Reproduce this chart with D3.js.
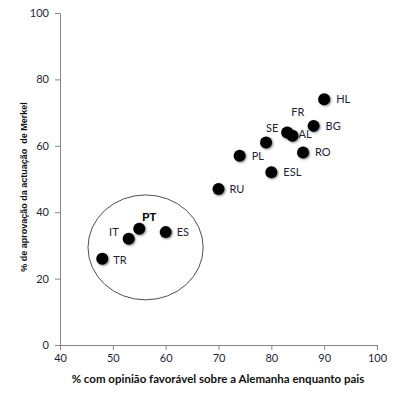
<!DOCTYPE html>
<html>
<head>
<meta charset="utf-8">
<script src="https://cdn.jsdelivr.net/npm/d3@7"></script>
<style>
  html, body { margin: 0; padding: 0; background: #fff; }
  svg { display: block; }
</style>
</head>
<body>
<figure id="scatter" style="margin:0"></figure>
<script>
// data
const countries = ["HL", "BG", "FR", "AL", "SE", "RO", "PL", "ESL", "RU", "PT", "ES", "IT", "TR"];
const favourable = [90, 88, 83, 84, 79, 86, 74, 80, 70, 55, 60, 53, 48];
const approval = [74, 66, 64, 63, 61, 58, 57, 52, 47, 35, 34, 32, 26];
const xTicks = [40, 50, 60, 70, 80, 90, 100];
const yTicks = [0, 20, 40, 60, 80, 100];
const xTitle = "% com opinião favorável sobre a Alemanha enquanto pais";
const yTitle = "% de aprovação da actuação  de Merkel";

// label placement (pixels relative to the dot)
const labelOffsets = {
  HL: [12, 0, "start"], BG: [12, 0, "start"], FR: [4, -20, "start"],
  AL: [6, -2, "start"], SE: [0, -14, "start"], RO: [12, 0, "start"],
  PL: [12, 0, "start"], ESL: [12, 0, "start"], RU: [11, 0, "start"],
  PT: [3, -12, "start"], ES: [11, 0, "start"], IT: [-10, -7, "end"],
  TR: [11, 1, "start"]
};

const width = 399;
const height = 400;
const tickFont = "Lato, 'Open Sans', sans-serif";
const textColor = "#1e1e3a";

const svg = d3.select("figure#scatter")
  .append("svg")
  .attr("width", width)
  .attr("height", height);

const x = d3.scaleLinear().domain([40, 100]).range([60, 377]);
const y = d3.scaleLinear().domain([0, 100]).range([345, 13]);

// soft shadow under the dots
const defs = svg.append("defs");
const filter = defs.append("filter").attr("id", "glow")
  .attr("x", "-50%").attr("y", "-50%").attr("width", "200%").attr("height", "200%");
filter.append("feGaussianBlur").attr("in", "SourceAlpha").attr("stdDeviation", 1.2).attr("result", "blur");
filter.append("feOffset").attr("in", "blur").attr("dx", 1).attr("dy", 1).attr("result", "off");
filter.append("feComponentTransfer").attr("in", "off").attr("result", "soft")
  .append("feFuncA").attr("type", "linear").attr("slope", 0.5);
const merge = filter.append("feMerge");
merge.append("feMergeNode").attr("in", "soft");
merge.append("feMergeNode").attr("in", "SourceGraphic");

// axes
const xAxis = svg.append("g")
  .attr("transform", "translate(0," + y(0) + ")")
  .call(d3.axisBottom(x).tickValues(xTicks).tickSizeOuter(0).tickSize(5).tickPadding(4));

const yAxis = svg.append("g")
  .attr("transform", "translate(" + x(40) + ",0)")
  .call(d3.axisLeft(y).tickValues(yTicks).tickSizeOuter(0).tickSize(5).tickPadding(6));

[xAxis, yAxis].forEach(g => {
  g.select(".domain").attr("stroke", "#868686");
  g.selectAll(".tick line").attr("stroke", "#868686");
  g.selectAll(".tick text")
    .attr("fill", textColor)
    .style("font-family", tickFont)
    .style("font-size", "11px");
});

// axis titles
svg.append("text")
  .attr("x", 218)
  .attr("y", 383)
  .attr("text-anchor", "middle")
  .attr("fill", "#111")
  .style("font-family", tickFont)
  .style("font-weight", "bold")
  .style("font-size", "11.5px")
  .text(xTitle);

svg.append("text")
  .attr("transform", "translate(27,187) rotate(-90)")
  .attr("text-anchor", "middle")
  .attr("fill", "#111")
  .style("font-family", "'Liberation Sans', Arial, sans-serif")
  .style("font-weight", "bold")
  .style("font-size", "9px")
  .style("white-space", "pre")
  .text(yTitle);

// ellipse around the southern group
svg.append("ellipse")
  .attr("cx", x(56.2))
  .attr("cy", y(29.4))
  .attr("rx", x(56.2 + 10.9) - x(56.2))
  .attr("ry", y(29.4) - y(29.4 + 15.8))
  .attr("fill", "none")
  .attr("stroke", "#3a3a3a")
  .attr("stroke-width", 0.9);

const points = countries.map((c, i) => ({ key: c, fx: favourable[i], ap: approval[i] }));

svg.append("g").attr("class", "dots")
  .selectAll("circle")
  .data(points)
  .enter()
  .append("circle")
  .attr("cx", d => x(d.fx))
  .attr("cy", d => y(d.ap))
  .attr("r", 6)
  .attr("fill", "#000")
  .attr("filter", "url(#glow)");

svg.append("g").attr("class", "labels")
  .selectAll("text")
  .data(points)
  .enter()
  .append("text")
  .attr("x", d => x(d.fx) + labelOffsets[d.key][0])
  .attr("y", d => y(d.ap) + labelOffsets[d.key][1])
  .attr("dy", "0.35em")
  .attr("text-anchor", d => labelOffsets[d.key][2])
  .attr("fill", d => d.key === "PT" ? "#000" : textColor)
  .style("font-family", d => d.key === "PT" ? "'Liberation Sans', Arial, sans-serif" : tickFont)
  .style("font-weight", d => d.key === "PT" ? "bold" : "normal")
  .style("font-size", d => d.key === "PT" ? "11px" : "11px")
  .text(d => d.key);
</script>
</body>
</html>
